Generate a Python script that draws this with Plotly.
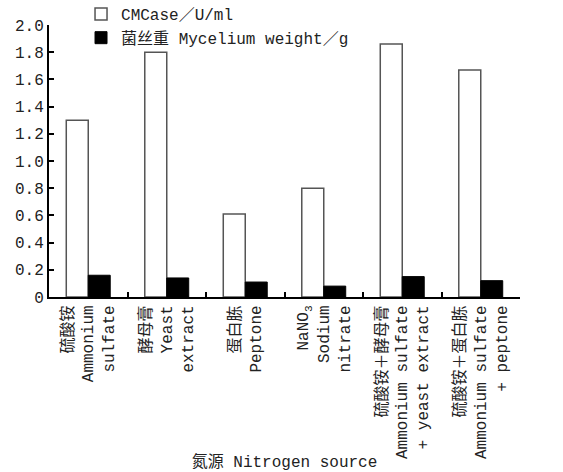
import plotly.graph_objects as go

categories = [
    "硫酸铵<br>Ammonium<br>sulfate",
    "酵母膏<br>Yeast<br>extract",
    "蛋白胨<br>Peptone",
    "NaNO<sub>3</sub><br>Sodium<br>nitrate",
    "硫酸铵＋酵母膏<br>Ammonium sulfate<br>+ yeast extract",
    "硫酸铵＋蛋白胨<br>Ammonium sulfate<br>+ peptone",
]
cmcase = [1.30, 1.80, 0.61, 0.80, 1.86, 1.67]
mycelium = [0.16, 0.14, 0.11, 0.08, 0.15, 0.12]
ytick_vals = [0, 0.2, 0.4, 0.6, 0.8, 1.0, 1.2, 1.4, 1.6, 1.8, 2.0]
ytick_text = ["0", "0.2", "0.4", "0.6", "0.8", "1.0", "1.2", "1.4", "1.6", "1.8", "2.0"]

FONT = "Liberation Mono, Noto Sans CJK SC, monospace"

fig = go.Figure()
fig.add_trace(go.Bar(
    x=categories, y=cmcase, name="CMCase／U/ml",
    marker=dict(color="white", line=dict(color="#555555", width=1.5)),
))
fig.add_trace(go.Bar(
    x=categories, y=mycelium, name="菌丝重 Mycelium weight／g",
    marker=dict(color="black", line=dict(color="black", width=1)),
))

fig.update_layout(
    width=563, height=472,
    margin=dict(l=49, r=43, t=25, b=175, autoexpand=False),
    paper_bgcolor="white", plot_bgcolor="white",
    barmode="group", bargap=0.44, bargroupgap=0,
    font=dict(family=FONT, size=16, color="#222222"),
    showlegend=True,
    legend=dict(x=0.068, y=1.103, xanchor="left", yanchor="top",
                bgcolor="rgba(0,0,0,0)", font=dict(size=16),
                tracegroupgap=0, itemwidth=30),
)
fig.update_xaxes(
    type="category", categoryorder="array", categoryarray=categories,
    showline=True, linecolor="black", linewidth=2,
    ticks="inside", tickson="boundaries", ticklen=5, tickcolor="black", tickwidth=1.5,
    tickangle=-90, tickfont=dict(size=16),
    showgrid=False, zeroline=False, automargin=False,
    title=dict(text="氮源 Nitrogen source", font=dict(size=16), standoff=4),
)
fig.update_yaxes(
    range=[0, 2.0], tickvals=ytick_vals, ticktext=ytick_text,
    showline=True, linecolor="black", linewidth=2,
    ticks="inside", ticklen=5, tickcolor="black", tickwidth=1.5,
    tickfont=dict(size=16),
    showgrid=False, zeroline=False, automargin=False,
)

fig.write_html(
    "out.html",
    config={"displayModeBar": False},
    post_script="document.body.style.margin='0';document.body.style.overflow='hidden';",
)
